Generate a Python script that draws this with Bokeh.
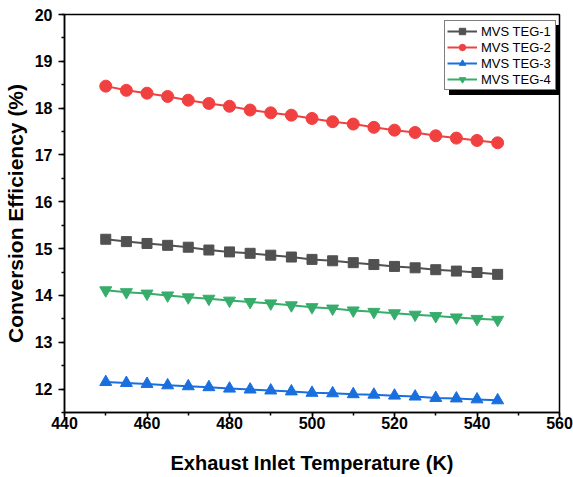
from bokeh.plotting import figure
from bokeh.models import Legend, LegendItem, SingleIntervalTicker, Range1d
from bokeh.embed import file_html
from bokeh.resources import INLINE

temperature = [450, 455, 460, 465, 470, 475, 480, 485, 490, 495,
               500, 505, 510, 515, 520, 525, 530, 535, 540, 545]
teg1 = [15.20, 15.15, 15.11, 15.07, 15.03, 14.97, 14.93, 14.90, 14.86, 14.82,
        14.77, 14.74, 14.70, 14.66, 14.62, 14.59, 14.55, 14.52, 14.49, 14.45]
teg2 = [18.47, 18.38, 18.32, 18.25, 18.17, 18.10, 18.04, 17.96, 17.90, 17.85,
        17.78, 17.71, 17.66, 17.59, 17.53, 17.48, 17.41, 17.36, 17.31, 17.26]
teg3 = [12.15, 12.13, 12.11, 12.08, 12.06, 12.04, 12.01, 11.99, 11.97, 11.95,
        11.92, 11.91, 11.89, 11.88, 11.86, 11.84, 11.81, 11.80, 11.78, 11.76]
teg4 = [14.11, 14.07, 14.04, 14.00, 13.96, 13.93, 13.89, 13.86, 13.83, 13.79,
        13.75, 13.72, 13.68, 13.65, 13.62, 13.59, 13.56, 13.53, 13.50, 13.48]

series = [
    ("MVS TEG-1", teg1, "#515151", "square", 10),
    ("MVS TEG-2", teg2, "#F14040", "circle", 12),
    ("MVS TEG-3", teg3, "#1A6FDF", "triangle", 12),
    ("MVS TEG-4", teg4, "#37AD6B", "inverted_triangle", 12),
]

W, H = 573, 477
ML, MR, MT, MB = 62, 14, 14, 65

p = figure(width=W, height=H, output_backend="svg", toolbar_location=None,
           x_range=Range1d(440, 560), y_range=Range1d(11.5, 20),
           min_border_left=ML, min_border_right=MR, min_border_top=MT, min_border_bottom=MB)
p.grid.visible = False
p.background_fill_color = "white"
p.border_fill_color = "white"
p.outline_line_color = "black"
p.outline_line_width = 1.5
p.outline_line_alpha = 1

p.xaxis.ticker = SingleIntervalTicker(interval=20, num_minor_ticks=2)
p.yaxis.ticker = SingleIntervalTicker(interval=1, num_minor_ticks=2)

for ax in (p.xaxis[0], p.yaxis[0]):
    ax.axis_line_width = 1.5
    ax.major_tick_line_width = 1.5
    ax.minor_tick_line_width = 1.5
    ax.major_tick_in = 0
    ax.major_tick_out = 6
    ax.minor_tick_in = 0
    ax.minor_tick_out = 3
    ax.major_label_text_font = "Liberation Sans"
    ax.major_label_text_font_style = "bold"
    ax.major_label_text_font_size = "16px"
    ax.major_label_text_color = "black"
    ax.axis_label_text_font = "Liberation Sans"
    ax.axis_label_text_font_style = "bold"
    ax.axis_label_text_color = "black"

p.xaxis.axis_label = "Exhaust Inlet Temperature (K)"
p.yaxis.axis_label = "Conversion Efficiency (%)"
p.xaxis.axis_label_text_font_size = "20px"
p.yaxis.axis_label_text_font_size = "21px"
p.xaxis.major_label_standoff = -2
p.xaxis.axis_label_standoff = 20
p.yaxis.major_label_standoff = 6
p.yaxis.axis_label_standoff = 5

renderers = []
for name, vals, color, marker, size in series:
    l = p.line(temperature, vals, line_color=color, line_width=2)
    s = p.scatter(temperature, vals, marker=marker, size=size,
                  fill_color=color, line_color=color, line_width=1)
    renderers.append((name, l, s))

frame_w = W - ML - MR
frame_h = H - MT - MB
pad, gh, gw, standoff, lw = 2, 16, 30, 4, 72
leg_w = 2 * pad + gw + standoff + lw
leg_h = 2 * pad + 4 * gh
lx = frame_w - 7 - leg_w
ly = frame_h - 8 - leg_h


def make_legend(loc, bg, labels):
    items = [LegendItem(label=lab, renderers=[l, s])
             for lab, (n, l, s) in zip(labels, renderers)]
    return Legend(items=items, location=loc, padding=pad, spacing=0,
                  glyph_height=gh, glyph_width=gw, label_height=gh,
                  label_width=lw, label_standoff=standoff, margin=0,
                  label_text_font="Liberation Sans", label_text_font_size="13px",
                  label_text_color="black",
                  border_line_color="black", border_line_width=1,
                  background_fill_color=bg, background_fill_alpha=1)


shadow = make_legend((lx + 5, ly - 5), "black", [" "] * 4)
legend = make_legend((lx, ly), "white", [n for n, _, _ in renderers])
p.add_layout(shadow, "center")
p.add_layout(legend, "center")

open("out.html", "w").write(file_html(p, INLINE))
